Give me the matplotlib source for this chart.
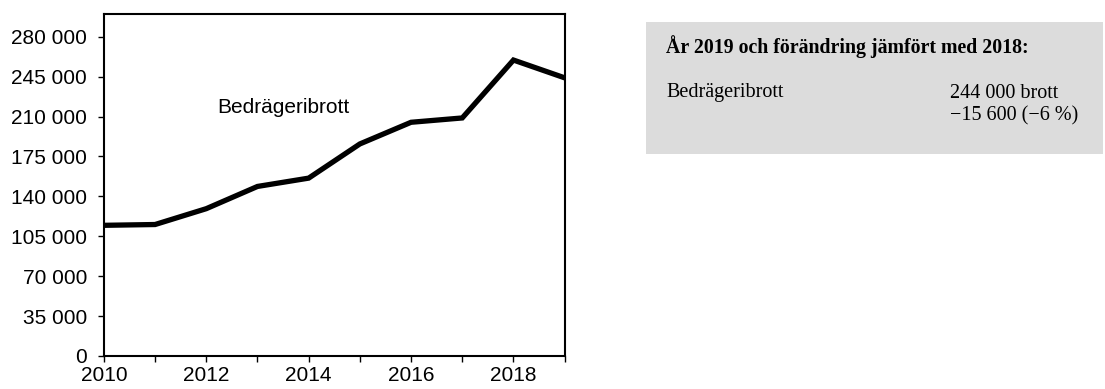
import matplotlib
matplotlib.use("Agg")
import matplotlib.pyplot as plt
from matplotlib.ticker import FuncFormatter, MultipleLocator
from matplotlib.patches import Rectangle

years = [2010, 2011, 2012, 2013, 2014, 2015, 2016, 2017, 2018, 2019]
brott = [114600, 115300, 129200, 148700, 156000, 186000, 205000, 208800, 259600, 244000]

series_label = "Bedrägeribrott"
box_title = "År 2019 och förändring jämfört med 2018:"
box_value = "244 000 brott"
box_change = "\u221215 600 (\u22126 %)"

plt.rcParams["font.family"] = ["Liberation Sans", "DejaVu Sans"]

fig = plt.figure(figsize=(11.05, 3.89), dpi=100)
ax = fig.add_axes([0.094, 0.085, 0.417, 0.879])

ax.plot(years, brott, color="black", linewidth=3.8, solid_joinstyle="miter")
ax.set_xlim(2010, 2019)
ax.set_ylim(0, 300000)
ax.yaxis.set_major_locator(MultipleLocator(35000))
ax.yaxis.set_major_formatter(FuncFormatter(lambda v, p: f"{int(v):,}".replace(",", " ")))
ax.xaxis.set_major_locator(MultipleLocator(2))
ax.xaxis.set_minor_locator(MultipleLocator(1))
ax.tick_params(axis="both", which="both", direction="out", labelsize=15, width=1, colors="black")
ax.tick_params(axis="both", which="major", length=4)
ax.tick_params(axis="x", which="minor", length=4)
ax.tick_params(axis="y", pad=8)
ax.tick_params(axis="x", pad=3)
for s in ax.spines.values():
    s.set_linewidth(1.5)

ax.text(2013.5, 218000, series_label, fontsize=15, ha="center", va="center")

# summary box
fig.patches.append(Rectangle((646 / 1105, 1 - 154 / 389), 457 / 1105, 132 / 389,
                             transform=fig.transFigure, facecolor="#dcdcdc",
                             edgecolor="none"))
serif = ["Liberation Serif", "DejaVu Serif"]
fig.text(666 / 1105, 1 - 47 / 389, box_title, family=serif, fontsize=14.3,
         fontweight="bold", va="center")
fig.text(666 / 1105, 1 - 93 / 389, series_label, family=serif, fontsize=14.5, va="center")
fig.text(950 / 1105, 1 - 93 / 389, box_value, family=serif, fontsize=14.5, va="center")
fig.text(950 / 1105, 1 - 116 / 389, box_change, family=serif, fontsize=14.5, va="center")

fig.savefig("out.png", dpi=100)
